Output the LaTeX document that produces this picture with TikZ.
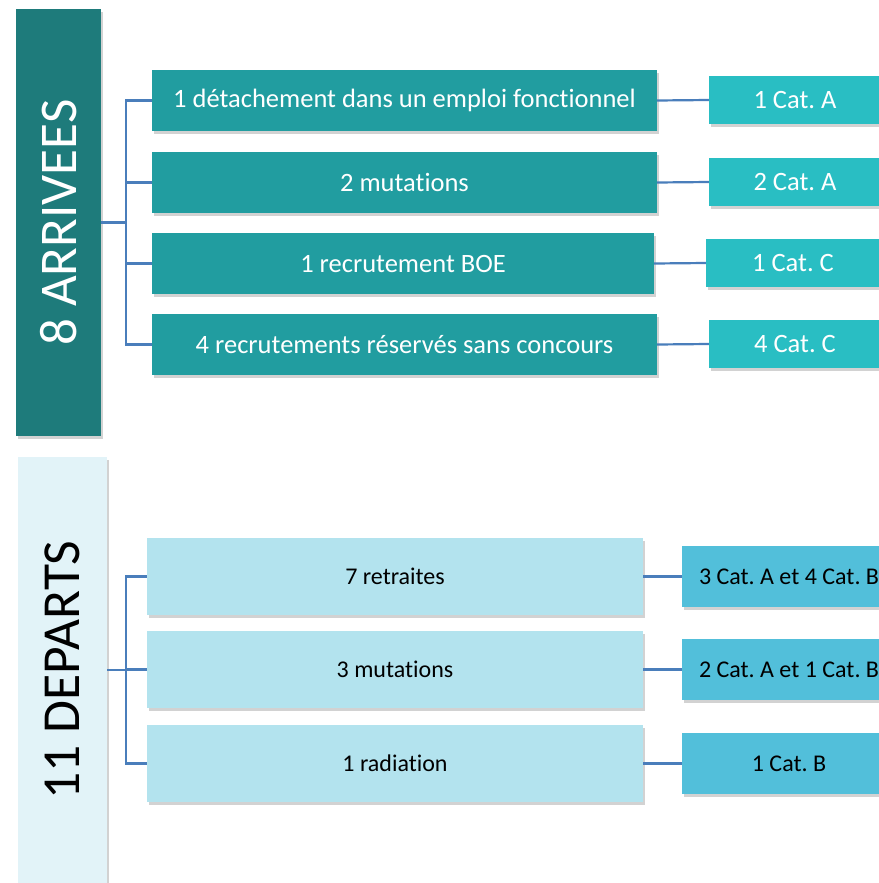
\documentclass[tikz,border=0pt]{standalone}
\usepackage{fontspec}
\setmainfont{Carlito}[Ligatures=NoCommon]
\frenchspacing
\usetikzlibrary{shadows}
\definecolor{bardark}{HTML}{1E7B7B}
\definecolor{midtop}{HTML}{219DA0}
\definecolor{righttop}{HTML}{29BEC3}
\definecolor{barlight}{HTML}{E2F3F8}
\definecolor{midbot}{HTML}{B3E3EE}
\definecolor{rightbot}{HTML}{52BFDA}
\definecolor{link}{HTML}{4A7EBB}
\tikzset{
  box/.style={draw=none, inner sep=0pt, align=center,
    drop shadow={opacity=0.35, shadow xshift=2pt, shadow yshift=-3pt}},
  bartop/.style={box, fill=bardark, text=white, font=\fontsize{53}{53}\selectfont},
  barbot/.style={box, fill=barlight, text=black, font=\fontsize{53.5}{53.5}\selectfont},
  mtop/.style={box, fill=midtop, text=white, font=\fontsize{26.5}{26.5}\selectfont, minimum height=61pt},
  rtop/.style={box, fill=righttop, text=white, font=\fontsize{26.5}{26.5}\selectfont, minimum height=48pt},
  mbot/.style={box, fill=midbot, text=black, font=\fontsize{24}{24}\selectfont, minimum width=496pt, minimum height=77pt},
  rbot/.style={box, fill=rightbot, text=black, font=\fontsize{24}{24}\selectfont, minimum width=214pt, minimum height=61pt},
  conn/.style={draw=link, line width=2.2pt}
}
\begin{document}
\begin{tikzpicture}[x={(1pt,0)}, y={(0,-1pt)}]
\useasboundingbox (0,0) rectangle (878,883);
\fill[white] (0,0) rectangle (878,883);
% top group
\node[bartop, minimum width=85pt, minimum height=427pt] (arr) at (58.5,222.5) {\rotatebox{90}{8 ARRIVEES}};
\node[mtop, minimum width=505pt] (m1) at (404.5,100.5) {1 détachement dans un emploi fonctionnel};
\node[mtop, minimum width=505pt] (m2) at (404.5,182.5) {2 mutations};
\node[mtop, minimum width=502pt] (m3) at (403,263.5) {1 recrutement BOE};
\node[mtop, minimum width=505pt] (m4) at (404.5,344.5) {4 recrutements réservés sans concours};
\node[rtop, minimum width=172pt] (r1) at (795,100) {1 Cat. A};
\node[rtop, minimum width=172pt] (r2) at (795,182) {2 Cat. A};
\node[rtop, minimum width=174pt] (r3) at (793,263) {1 Cat. C};
\node[rtop, minimum width=172pt] (r4) at (795,344) {4 Cat. C};
\coordinate (ta) at (126,222.5);
\draw[conn] (arr.east) -- (ta);
\draw[conn] (ta) |- (m1.west);
\draw[conn] (ta) |- (m2.west);
\draw[conn] (ta) |- (m3.west);
\draw[conn] (ta) |- (m4.west);
\draw[conn] (m1.east) -- (r1.west);
\draw[conn] (m2.east) -- (r2.west);
\draw[conn] (m3.east) -- (r3.west);
\draw[conn] (m4.east) -- (r4.west);
% bottom group
\node[barbot, minimum width=89pt, minimum height=426pt] (dep) at (62.5,670) {\rotatebox{90}{11 DEPARTS}};
\node[mbot] (b1) at (395,576.5) {7 retraites};
\node[mbot] (b2) at (395,669.5) {3 mutations};
\node[mbot] (b3) at (395,763.5) {1 radiation};
\node[rbot] (s1) at (789,576.5) {3 Cat. A et 4 Cat. B};
\node[rbot] (s2) at (789,669.5) {2 Cat. A et 1 Cat. B};
\node[rbot] (s3) at (789,763.5) {1 Cat. B};
\coordinate (tb) at (126,670);
\draw[conn] (dep.east) -- (tb);
\draw[conn] (tb) |- (b1.west);
\draw[conn] (tb) |- (b2.west);
\draw[conn] (tb) |- (b3.west);
\draw[conn] (b1.east) -- (s1.west);
\draw[conn] (b2.east) -- (s2.west);
\draw[conn] (b3.east) -- (s3.west);
\end{tikzpicture}
\end{document}
